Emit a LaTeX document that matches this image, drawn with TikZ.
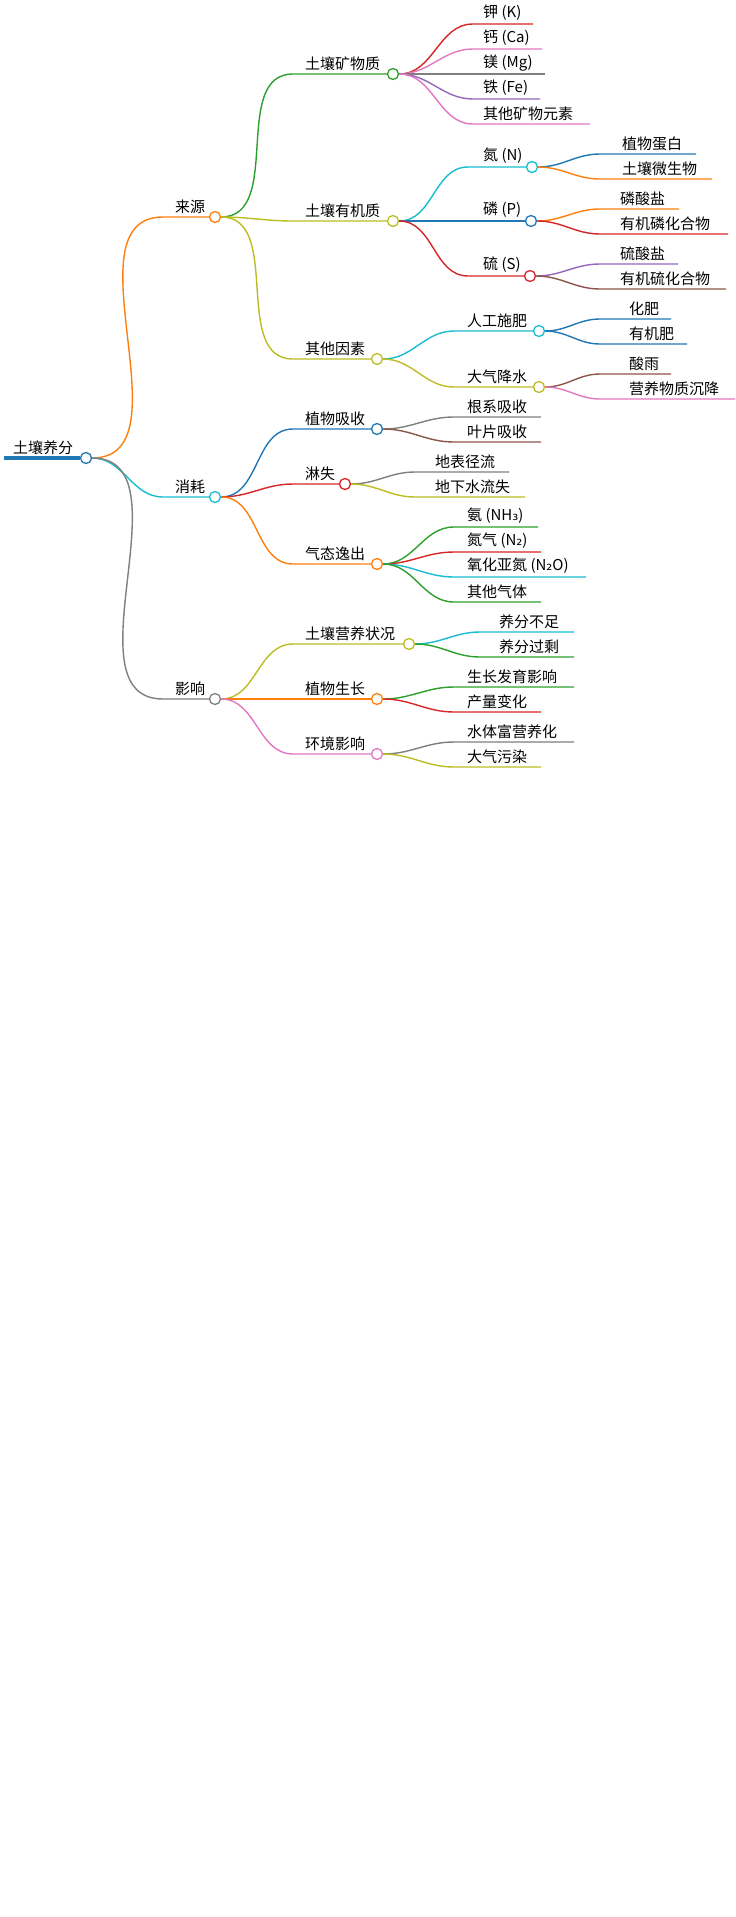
\documentclass[tikz,border=0pt]{standalone}
\usepackage{fontspec}
\setmainfont{Noto Sans CJK SC}
\newfontfamily\dv{DejaVu Sans}
\definecolor{cB}{HTML}{1F77B4}\definecolor{cO}{HTML}{FF7F0E}\definecolor{cG}{HTML}{2CA02C}
\definecolor{cR}{HTML}{D62728}\definecolor{cP}{HTML}{9467BD}\definecolor{cN}{HTML}{8C564B}
\definecolor{cK}{HTML}{E377C2}\definecolor{cY}{HTML}{7F7F7F}\definecolor{cL}{HTML}{BCBD22}
\definecolor{cC}{HTML}{17BECF}
\tikzset{edge/.style={line width=1.4pt},
 dot/.style={circle,draw,fill=white,line width=1.3pt,minimum size=11pt,inner sep=0pt},
 lbl/.style={anchor=south west,inner sep=0pt,font=\fontsize{15}{16}\selectfont}}
\newcommand\lf[8]{%
 \coordinate (#2s) at (#3,#4); \coordinate (#2e) at (#5,#4);
 \draw[edge,#6] (#1.east) to[out=0,in=180] (#2s) -- (#2e);
 \node[lbl] (#2t) at (#8,#4-3) {#7};}
\newcommand\md[8]{%
 \coordinate (#2s) at (#3,#4);
 \node[dot,draw=#6] (#2) at (#5,#4) {};
 \draw[edge,#6] (#1.east) to[out=0,in=180] (#2s) -- (#2.west);
 \node[lbl] (#2t) at (#8,#4-3) {#7};}
\begin{document}
\begin{tikzpicture}[x=1pt,y=-1pt]
\useasboundingbox (0,0) rectangle (736,1917);
\fill[white] (0,0) rectangle (736,1917);
\node[dot,draw=cB] (root) at (86,458) {};
\coordinate (rootl) at (4,458);
\draw[cB,line width=3.5pt] (rootl) -- (root.west);
\node[lbl] (roott) at (13,455) {土壤养分};
% 来源
\md{root}{ly}{163}{217}{215}{cO}{来源}{175}
\md{ly}{kw}{293}{74}{393}{cG}{土壤矿物质}{305}
\lf{kw}{k1}{473}{24}{533}{cR}{钾 (K)}{483}
\lf{kw}{k2}{473}{49}{542}{cK}{钙 (Ca)}{483}
\lf{kw}{k3}{473}{74}{545}{cY}{镁 (Mg)}{483}
\lf{kw}{k4}{473}{99}{540}{cP}{铁 (Fe)}{483}
\lf{kw}{k5}{473}{124}{590}{cK}{其他矿物元素}{483}
\md{ly}{yj}{293}{221}{393}{cL}{土壤有机质}{305}
\md{yj}{dn}{468}{167}{532}{cC}{氮 (N)}{483}
\lf{dn}{d1}{600}{154}{696}{cB}{植物蛋白}{622}
\lf{dn}{d2}{600}{179}{712}{cO}{土壤微生物}{622}
\md{yj}{ln}{468}{221}{531}{cB}{磷 (P)}{483}
\lf{ln}{l1}{600}{209}{679}{cO}{磷酸盐}{620}
\lf{ln}{l2}{600}{234}{728}{cR}{有机磷化合物}{620}
\md{yj}{lu}{468}{276}{530}{cR}{硫 (S)}{483}
\lf{lu}{u1}{600}{264}{678}{cP}{硫酸盐}{620}
\lf{lu}{u2}{600}{289}{726}{cN}{有机硫化合物}{620}
\md{ly}{qt}{293}{359}{377}{cL}{其他因素}{305}
\md{qt}{rg}{454}{331}{539}{cC}{人工施肥}{467}
\lf{rg}{r1}{600}{319}{671}{cB}{化肥}{629}
\lf{rg}{r2}{600}{344}{687}{cB}{有机肥}{629}
\md{qt}{dq}{454}{387}{539}{cL}{大气降水}{467}
\lf{dq}{q1}{600}{374}{671}{cN}{酸雨}{629}
\lf{dq}{q2}{600}{399}{735}{cK}{营养物质沉降}{629}
% 消耗
\md{root}{xh}{163}{497}{215}{cC}{消耗}{175}
\md{xh}{zw}{293}{429}{377}{cB}{植物吸收}{305}
\lf{zw}{z1}{454}{417}{541}{cY}{根系吸收}{467}
\lf{zw}{z2}{454}{442}{541}{cN}{叶片吸收}{467}
\md{xh}{ls}{293}{484}{345}{cR}{淋失}{305}
\lf{ls}{s1}{415}{472}{509}{cY}{地表径流}{435}
\lf{ls}{s2}{415}{497}{525}{cL}{地下水流失}{435}
\md{xh}{qy}{293}{564}{377}{cO}{气态逸出}{305}
\lf{qy}{g1}{454}{527}{538}{cG}{氨 (NH{\dv ₃})}{467}
\lf{qy}{g2}{454}{552}{541}{cR}{氮气 (N{\dv ₂})}{467}
\lf{qy}{g3}{454}{577}{586}{cC}{氧化亚氮 (N{\dv ₂}O)}{467}
\lf{qy}{g4}{454}{602}{541}{cG}{其他气体}{467}
% 影响
\md{root}{yx}{163}{699}{215}{cY}{影响}{175}
\md{yx}{yy}{293}{644}{409}{cL}{土壤营养状况}{305}
\lf{yy}{y1}{480}{632}{574}{cC}{养分不足}{499}
\lf{yy}{y2}{480}{657}{574}{cG}{养分过剩}{499}
\md{yx}{sz}{293}{699}{377}{cO}{植物生长}{305}
\lf{sz}{h1}{454}{687}{574}{cG}{生长发育影响}{467}
\lf{sz}{h2}{454}{712}{541}{cR}{产量变化}{467}
\md{yx}{hj}{293}{754}{377}{cK}{环境影响}{305}
\lf{hj}{j1}{454}{742}{574}{cY}{水体富营养化}{467}
\lf{hj}{j2}{454}{767}{541}{cL}{大气污染}{467}
\end{tikzpicture}
\end{document}
